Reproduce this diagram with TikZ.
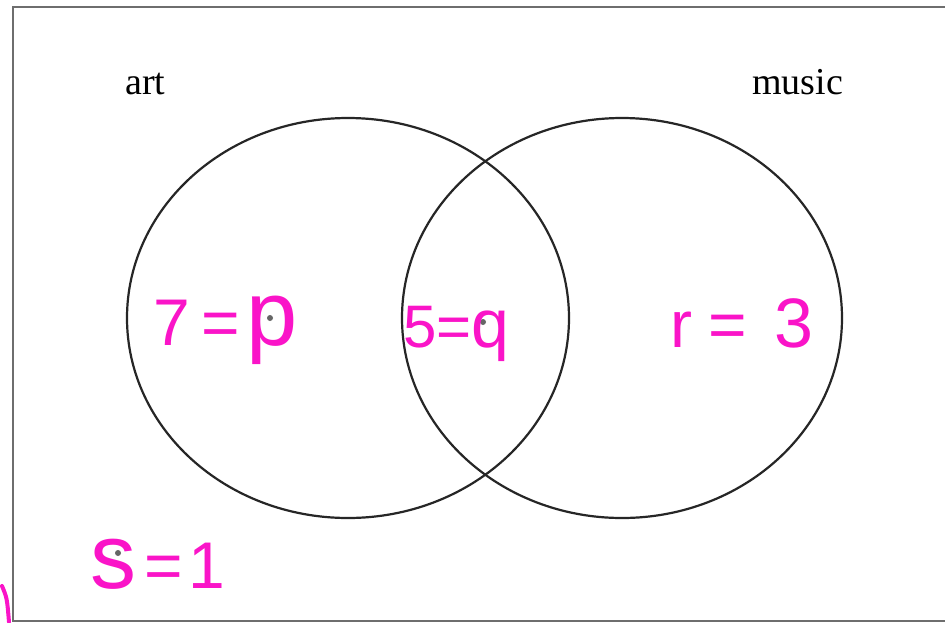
\documentclass[tikz,border=0pt]{standalone}
\usepackage{fontspec}
\setmainfont{Liberation Serif}
\newfontfamily\handfont{Liberation Sans}
\definecolor{inkpink}{RGB}{250,20,200}
\definecolor{framegray}{RGB}{110,110,110}
\begin{document}
\begin{tikzpicture}[x=1pt,y=-1pt,
  setcircle/.style={draw=black!85,line width=2.2pt},
  frameline/.style={draw=framegray,line width=2.8pt},
  setlabel/.style={font=\fontsize{38}{38}\selectfont,inner sep=0pt,anchor=base west},
  hand/.style={text=inkpink,font=\handfont\fontsize{66}{66}\selectfont,inner sep=0pt,anchor=base west},
  dotmark/.style={fill=black!60,draw=none}]
\useasboundingbox (0,0) rectangle (945,622);
\fill[white] (0,0) rectangle (945,622);
% frame (open at the right)
\draw[frameline] (946,7) -- (13,7) -- (13,621) -- (946,621);
% sets
\draw[setcircle] (348,318) ellipse [x radius=221, y radius=200];
\draw[setcircle] (622,318) ellipse [x radius=220, y radius=200];
\node[setlabel] (art) at (125,94) {art};
\node[setlabel] (music) at (752,94) {music};
% point marks
\fill[dotmark] (270,318) circle (3);
\fill[dotmark] (483,322) circle (3);
\fill[dotmark] (118,553) circle (3);
% handwritten labels
\node[hand] (pp) at (153,345) {7\hspace{12pt}=\hspace{6pt}{\fontsize{92}{92}\selectfont p}};
\node[hand,font=\handfont\fontsize{60}{60}\selectfont] (qq) at (403,347) {5\hspace{0pt}=\hspace{0pt}{\fontsize{68}{68}\selectfont q}};
\node[hand] (rr) at (670,347) {r\hspace{16pt}=\hspace{28pt}{\fontsize{70}{70}\selectfont 3}};
\node[hand] (ss) at (90,588) {{\fontsize{92}{92}\selectfont s}\hspace{8pt}=\hspace{6pt}1};
% stray pen stroke
\draw[inkpink,line width=4pt,line cap=round] (2,586) .. controls (7,598) .. (9,622);
\end{tikzpicture}
\end{document}
